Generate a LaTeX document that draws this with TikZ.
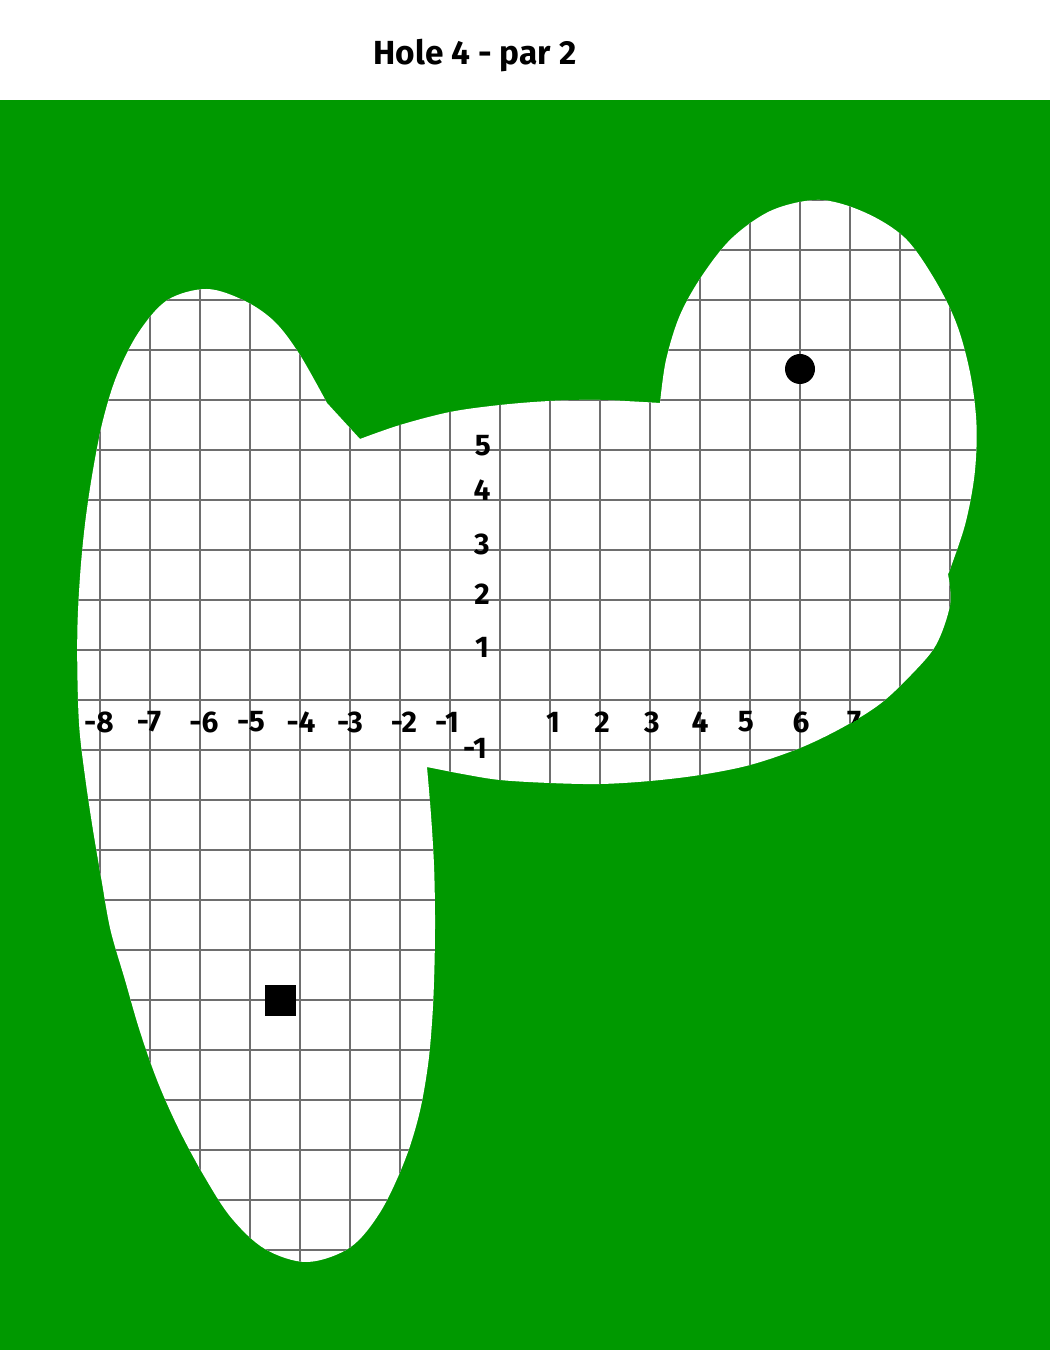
\documentclass[tikz,border=0pt]{standalone}
\usepackage{fontspec}
\setmainfont{Fira Sans}
\definecolor{turf}{RGB}{0,153,0}
\definecolor{gridgray}{RGB}{110,110,110}
\begin{document}
\begin{tikzpicture}[x=1cm,y=1cm,
  lbl/.style={font=\fontsize{17}{20}\selectfont\bfseries, inner sep=0pt},
  gridline/.style={gridgray, line width=0.6pt},
  axisline/.style={gridgray, line width=1.6pt}]
\useasboundingbox (-10,-13) rectangle (11,14);
\fill[white] (-10,12) rectangle (11,14);
\fill[turf] (-10,-13) rectangle (11,12);
\def\blob{plot[smooth, tension=0.55] coordinates {(-1.46,-1.34) (-1.38,-2.3) (-1.32,-3.3) (-1.30,-4.3) (-1.31,-5.3) (-1.35,-6.3) (-1.44,-7.3) (-1.62,-8.3) (-1.92,-9.25) (-2.40,-10.25) (-3.00,-10.95) (-3.86,-11.24) (-4.70,-10.98) (-5.38,-10.35) (-5.93,-9.5) (-6.44,-8.55) (-6.86,-7.6) (-7.21,-6.6) (-7.50,-5.6) (-7.79,-4.6) (-7.97,-3.6) (-8.14,-2.6) (-8.29,-1.6) (-8.41,-0.6) (-8.45,0.4) (-8.45,1.5) (-8.39,2.6) (-8.29,3.6) (-8.14,4.6) (-7.94,5.6) (-7.66,6.5) (-7.23,7.35) (-6.65,8.0) (-5.86,8.22) (-5.10,7.98) (-4.50,7.56) (-4.00,6.90) (-3.46,5.94)}
 -- plot[smooth, tension=0.55] coordinates {(-2.80,5.22) (-2.00,5.50) (-1.00,5.76) (0,5.90) (1.00,5.98) (2.00,6.00) (3.20,5.94)}
 -- plot[smooth, tension=0.55] coordinates {(3.20,5.94) (3.32,6.8) (3.60,7.7) (4.05,8.5) (4.65,9.25) (5.45,9.80) (6.40,10.0) (7.30,9.75) (8.10,9.24) (8.70,8.40) (9.14,7.5) (9.41,6.5) (9.53,5.5) (9.49,4.5) (9.30,3.5) (8.98,2.56)}
 -- plot[smooth, tension=0.55] coordinates {(8.96,2.52) (9.00,1.9) (8.72,1.1) (8.22,0.5) (7.60,-0.08) (6.85,-0.55) (6.00,-0.96) (5.00,-1.30) (4.00,-1.50) (3.00,-1.62) (2.00,-1.68) (1.00,-1.66) (0,-1.60) (-0.75,-1.48) (-1.46,-1.34)} -- cycle}
\fill[white] \blob;
\begin{scope}
  \clip \blob;
  \draw[gridline] (-10,-13) grid (11,12);
  \draw[axisline] (-10,0) -- (11,0) (0,-13) -- (0,12);
  \node[lbl] (xm8) at (-8.02,-0.44) {-8};
  \node[lbl] (xm7) at (-7.02,-0.44) {-7};
  \node[lbl] (xm6) at (-5.92,-0.44) {-6};
  \node[lbl] (xm5) at (-4.98,-0.44) {-5};
  \node[lbl] (xm4) at (-3.98,-0.44) {-4};
  \node[lbl] (xm3) at (-3.00,-0.44) {-3};
  \node[lbl] (xm2) at (-1.92,-0.44) {-2};
  \node[lbl] (xm1) at (-1.06,-0.44) {-1};
  \node[lbl] (xp1) at (1.06,-0.44) {1};
  \node[lbl] (xp2) at (2.04,-0.44) {2};
  \node[lbl] (xp3) at (3.04,-0.44) {3};
  \node[lbl] (xp4) at (4.00,-0.44) {4};
  \node[lbl] (xp5) at (4.92,-0.44) {5};
  \node[lbl] (xp6) at (6.02,-0.44) {6};
  \node[lbl] (xp7) at (7.08,-0.44) {7};
  \node[lbl] (ym1) at (-0.50,-0.96) {-1};
  \node[lbl] (yp1) at (-0.36,1.06) {1};
  \node[lbl] (yp2) at (-0.36,2.12) {2};
  \node[lbl] (yp3) at (-0.36,3.12) {3};
  \node[lbl] (yp4) at (-0.36,4.20) {4};
  \node[lbl] (yp5) at (-0.34,5.08) {5};
\end{scope}
\node[circle, fill=black, inner sep=0pt, minimum size=0.6cm] (hole) at (6,6.62) {};
\node[rectangle, fill=black, inner sep=0pt, minimum size=0.62cm] (ball) at (-4.39,-6.01) {};
\node[font=\fontsize{19}{23}\selectfont\bfseries, inner sep=0pt] (title) at (-0.5,12.89) {Hole 4 - par 2};
\end{tikzpicture}
\end{document}
